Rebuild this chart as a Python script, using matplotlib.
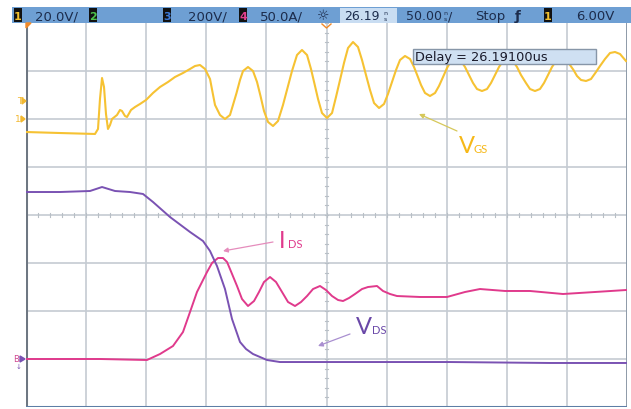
import matplotlib
matplotlib.use("Agg")
import numpy as np
import matplotlib.pyplot as plt
from matplotlib.patches import Rectangle, Polygon

# ---------------- data (screen divisions: x 0..10, y -4..4) ----------------
vgs_t = [0.000, 0.566, 1.148, 1.198, 1.231, 1.265, 1.298, 1.331, 1.364, 1.398, 1.431, 1.514,
         1.564, 1.597, 1.647, 1.681, 1.747, 1.814, 1.897, 1.997, 2.113, 2.230, 2.363, 2.479,
         2.612, 2.729, 2.812, 2.895, 2.979, 3.062, 3.103, 3.145, 3.228, 3.311, 3.394, 3.444,
         3.503, 3.561, 3.611, 3.694, 3.777, 3.844, 3.902, 3.960, 4.027, 4.110, 4.193, 4.276,
         4.351, 4.426, 4.509, 4.592, 4.676, 4.742, 4.801, 4.859, 4.925, 5.008, 5.092, 5.158,
         5.225, 5.291, 5.358, 5.441, 5.524, 5.591, 5.657, 5.724, 5.791, 5.874, 5.957, 6.023,
         6.090, 6.157, 6.223, 6.306, 6.390, 6.456, 6.515, 6.573, 6.639, 6.722, 6.806, 6.872,
         6.939, 7.005, 7.072, 7.155, 7.238, 7.305, 7.371, 7.438, 7.504, 7.587, 7.671, 7.737,
         7.804, 7.870, 7.937, 8.020, 8.103, 8.170, 8.236, 8.319, 8.386, 8.469, 8.552, 8.619,
         8.686, 8.752, 8.819, 8.902, 8.985, 9.052, 9.110, 9.168, 9.235, 9.318, 9.401, 9.484,
         9.551, 9.634, 9.717, 9.800, 9.884, 9.983]
vgs_v = [1.729, 1.708, 1.688, 1.792, 2.417, 2.854, 2.667, 2.104, 1.792, 1.875, 2.000, 2.083,
         2.188, 2.167, 2.063, 2.042, 2.188, 2.250, 2.313, 2.396, 2.542, 2.667, 2.771, 2.875,
         2.958, 3.042, 3.104, 3.125, 3.042, 2.833, 2.563, 2.292, 2.083, 2.000, 2.083, 2.292,
         2.542, 2.813, 3.000, 3.083, 3.000, 2.771, 2.479, 2.167, 1.938, 1.854, 1.958, 2.292,
         2.646, 3.000, 3.333, 3.438, 3.333, 3.042, 2.729, 2.417, 2.125, 2.021, 2.125, 2.458,
         2.813, 3.167, 3.479, 3.604, 3.500, 3.229, 2.917, 2.604, 2.333, 2.229, 2.313, 2.521,
         2.771, 3.021, 3.229, 3.313, 3.250, 3.083, 2.896, 2.708, 2.542, 2.479, 2.542, 2.688,
         2.875, 3.063, 3.208, 3.250, 3.208, 3.083, 2.917, 2.750, 2.625, 2.583, 2.625, 2.750,
         2.917, 3.083, 3.208, 3.250, 3.208, 3.083, 2.917, 2.750, 2.625, 2.583, 2.625, 2.750,
         2.917, 3.083, 3.208, 3.250, 3.229, 3.125, 3.021, 2.896, 2.813, 2.792, 2.833, 2.979,
         3.104, 3.250, 3.375, 3.396, 3.354, 3.208]

vds_t = [0.000, 0.566, 1.065, 1.265, 1.481, 1.730, 1.947, 2.113, 2.396, 2.729, 2.945, 3.062,
         3.178, 3.311, 3.428, 3.561, 3.661, 3.777, 4.010, 4.226, 5.391, 7.055, 8.719, 9.983]
vds_v = [0.479, 0.479, 0.500, 0.583, 0.500, 0.479, 0.438, 0.271, -0.042, -0.354, -0.542, -0.750,
         -1.063, -1.542, -2.167, -2.646, -2.792, -2.896, -3.021, -3.063, -3.063, -3.063, -3.083, -3.083]

ids_t = [0.000, 1.231, 2.013, 2.230, 2.446, 2.612, 2.729, 2.845, 3.012, 3.095, 3.195, 3.278,
         3.345, 3.394, 3.511, 3.594, 3.694, 3.794, 3.877, 3.960, 4.060, 4.160, 4.260, 4.360,
         4.476, 4.576, 4.676, 4.776, 4.892, 4.992, 5.092, 5.192, 5.275, 5.375, 5.474, 5.591,
         5.691, 5.840, 5.940, 6.057, 6.173, 6.556, 7.005, 7.305, 7.554, 7.970, 8.386, 8.935,
         9.468, 9.983]
ids_v = [-3.000, -3.000, -3.021, -2.896, -2.729, -2.438, -2.021, -1.604, -1.188, -1.000, -0.896, -0.896,
         -0.979, -1.125, -1.479, -1.750, -1.896, -1.792, -1.604, -1.396, -1.292, -1.396, -1.604, -1.813,
         -1.896, -1.813, -1.688, -1.542, -1.479, -1.563, -1.688, -1.771, -1.792, -1.729, -1.646, -1.542,
         -1.500, -1.479, -1.583, -1.646, -1.688, -1.708, -1.708, -1.604, -1.542, -1.583, -1.583, -1.646,
         -1.604, -1.563]

header_items = ["20.0V/", "200V/", "50.0A/", "26.19", "50.00", "Stop", "6.00V"]
delay_text = "Delay = 26.19100us"

# ---------------- figure ----------------
W, H = 631, 410
fig = plt.figure(figsize=(W / 100, H / 100), dpi=100)
fig.patch.set_facecolor("white")

L, R, T, B = 26, 627, 24, 408
ax = fig.add_axes([L / W, (H - B) / H, (R - L) / W, (B - T) / H])
ax.set_xlim(0, 10)
ax.set_ylim(-4, 4)
ax.axis("off")

grid_c = "#c5cbd2"
for i in range(1, 10):
    ax.axvline(i, color=grid_c, lw=1.2, zorder=1)
for j in range(-3, 4):
    ax.axhline(j, color=grid_c, lw=1.2, zorder=1)
for k in np.arange(0, 10.01, 0.2):
    ax.plot([k, k], [-0.05, 0.05], color="#b8bfc6", lw=0.8, zorder=1)
for k in np.arange(-4, 4.01, 0.2):
    ax.plot([4.97, 5.03], [k, k], color="#b8bfc6", lw=0.8, zorder=1)
ax.axvline(0, color="#6e7782", lw=2.2, zorder=2)
ax.axvline(10, color="#8d9aa8", lw=1.4, zorder=2)
ax.axhline(-4, color="#5d7ea6", lw=2.2, zorder=2)

ax.plot(vgs_t, vgs_v, color="#f6c233", lw=1.5, zorder=3, solid_joinstyle="round")
ax.plot(ids_t, ids_v, color="#e03a8c", lw=1.4, zorder=4, solid_joinstyle="round")
ax.plot(vds_t, vds_v, color="#7a52b3", lw=1.4, zorder=5, solid_joinstyle="round")

# ---------------- overlay in pixel coords ----------------
ov = fig.add_axes([0, 0, 1, 1], zorder=10)
ov.set_xlim(0, W)
ov.set_ylim(H, 0)
ov.axis("off")
ov.patch.set_alpha(0)

# header bar
ov.add_patch(Rectangle((12, 8), W - 12, 16, facecolor="#6e9fd3", edgecolor="none"))
txt_c = "#1c2c4c"
fs = 9.5
def chbox(x, label, col):
    ov.add_patch(Rectangle((x, 9), 8, 14, facecolor="#111111", edgecolor="none"))
    ov.text(x + 4, 16.5, label, color=col, fontsize=8, ha="center", va="center",
            fontweight="bold")

chbox(14, "1", "#f2c230")
ov.text(35, 16.5, header_items[0], color=txt_c, fontsize=fs, va="center")
chbox(89, "2", "#4cc34c")
chbox(163, "3", "#3b7ad8")
ov.text(188, 16.5, header_items[1], color=txt_c, fontsize=fs, va="center")
chbox(239, "4", "#e0408e")
ov.text(260, 16.5, header_items[2], color=txt_c, fontsize=fs, va="center")
ov.text(323, 16.5, "\u263c", color=txt_c, fontsize=10, ha="center", va="center")
ov.add_patch(Rectangle((340, 9), 57, 15, facecolor="#c9ddf2", edgecolor="none"))
ov.text(344, 16.5, header_items[3], color=txt_c, fontsize=9, va="center")
ov.text(385, 13.2, "n", color=txt_c, fontsize=4.5, ha="center", va="center")
ov.text(385, 19.8, "s", color=txt_c, fontsize=4.5, ha="center", va="center")
ov.text(406, 16.5, header_items[4], color=txt_c, fontsize=9, va="center")
ov.text(445, 13.2, "n", color=txt_c, fontsize=4.5, ha="center", va="center")
ov.text(445, 19.8, "s", color=txt_c, fontsize=4.5, ha="center", va="center")
ov.text(448, 16.5, "/", color=txt_c, fontsize=9, va="center")
ov.text(475, 16.5, header_items[5], color=txt_c, fontsize=fs, va="center")
ov.text(518, 16.5, "\u0192", color=txt_c, fontsize=fs, ha="center", va="center",
        fontweight="bold")
chbox(544, "1", "#f2c230")
ov.text(576, 16.5, header_items[6], color=txt_c, fontsize=fs, va="center")

# trigger markers
ov.add_patch(Polygon([[26, 24], [31, 24], [26, 29]], closed=True, color="#f08a2a"))
ov.plot([322, 326.5, 331], [25, 29, 25], color="#f08a2a", lw=1.0)

# left channel markers
ov.text(20, 102, "T", color="#f2b830", fontsize=6.5, ha="center", va="center")
ov.add_patch(Polygon([[22, 99], [26, 102], [22, 105]], closed=True, color="#f2b830"))
ov.text(18, 120, "1", color="#f2b830", fontsize=6.5, ha="center", va="center")
ov.add_patch(Polygon([[21, 117], [25, 120], [21, 123]], closed=True, color="#f2b830"))
ov.text(16, 360, "B", color="#d04890", fontsize=6, ha="center", va="center")
ov.add_patch(Polygon([[20, 357], [25, 360], [20, 363]], closed=True, color="#7a52b3"))
ov.text(19, 367, "\u2193", color="#7a52b3", fontsize=5, ha="center", va="center")

# delay box
ov.add_patch(Rectangle((413, 50), 183, 15, facecolor="#cfe0f2", edgecolor="#8796a8", lw=1.0))
ov.text(415, 57.5, delay_text, color="#1a1a2a", fontsize=9.3, va="center")

# labels with arrows
ov.annotate("", xy=(419, 115), xytext=(457, 132),
            arrowprops=dict(arrowstyle="-|>", color="#d6c85a", lw=0.9,
                            mutation_scale=7, shrinkA=0, shrinkB=0))
ov.text(459, 153, "V", color="#f6b818", fontsize=17, va="baseline", family="Lato")
ov.text(474, 153, "GS", color="#f6b818", fontsize=8, va="baseline", family="Lato")

ov.annotate("", xy=(223, 252), xytext=(273, 243),
            arrowprops=dict(arrowstyle="-|>", color="#e58cbc", lw=0.9,
                            mutation_scale=7, shrinkA=0, shrinkB=0))
ov.text(279, 248, "I", color="#e03a8c", fontsize=17, va="baseline", family="Lato")
ov.text(288, 248, "DS", color="#e03a8c", fontsize=8, va="baseline", family="Lato")

ov.annotate("", xy=(318, 347), xytext=(350, 335),
            arrowprops=dict(arrowstyle="-|>", color="#a98fd0", lw=0.9,
                            mutation_scale=7, shrinkA=0, shrinkB=0))
ov.text(356, 334, "V", color="#6a48a8", fontsize=17, va="baseline", family="Lato")
ov.text(372, 334, "DS", color="#6a48a8", fontsize=8, va="baseline", family="Lato")

fig.savefig("out.png", dpi=100)
